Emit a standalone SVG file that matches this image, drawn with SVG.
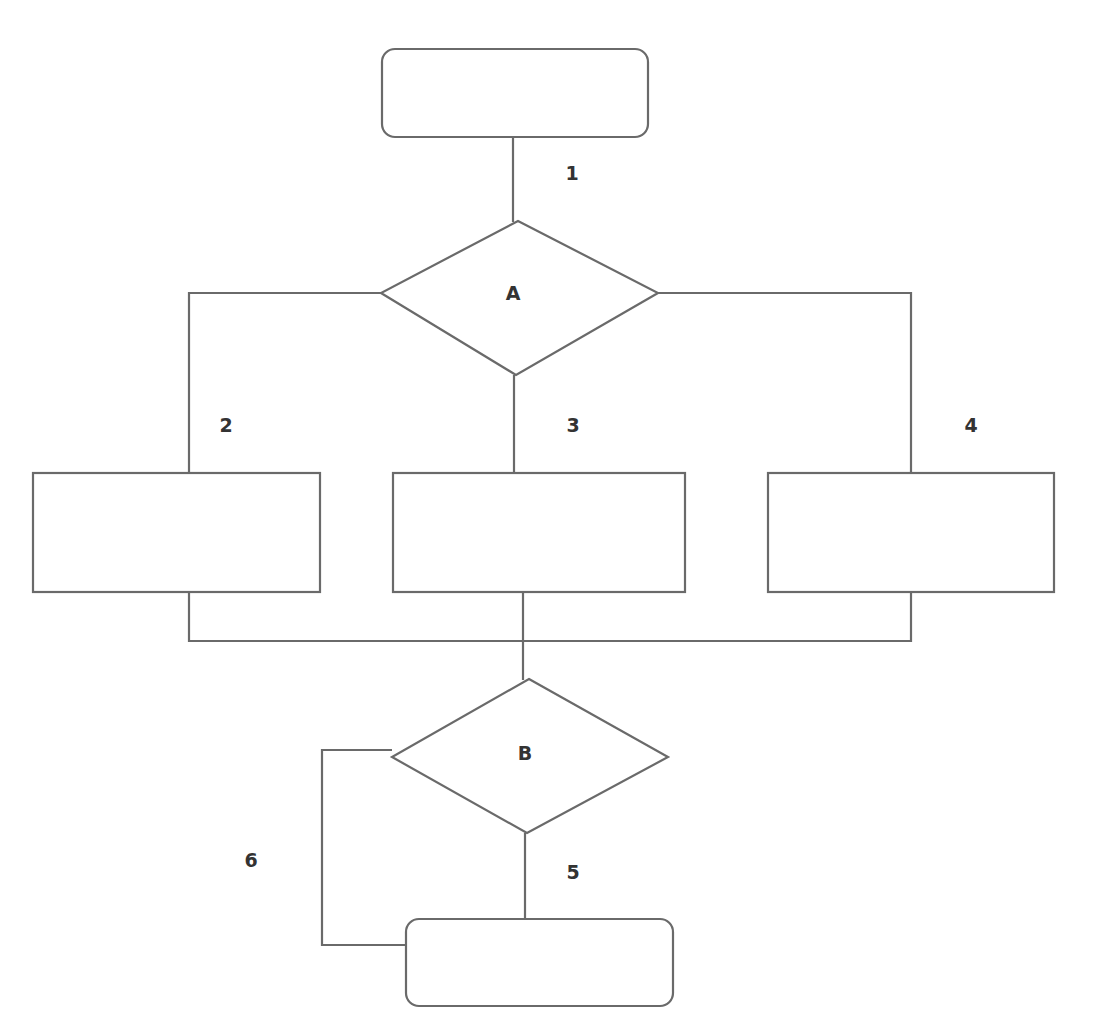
<svg xmlns="http://www.w3.org/2000/svg" width="1102" height="1035" viewBox="0 0 1102 1035">
<style>
.s{fill:#ffffff;stroke:#6a6a6a;stroke-width:2.2}
.c{fill:none;stroke:#6a6a6a;stroke-width:2.2}
.t{font-family:"DejaVu Sans",sans-serif;font-weight:bold;font-size:19px;fill:#333333;text-anchor:middle}
</style>
<rect width="1102" height="1035" fill="#ffffff"/>
<g id="connectors">
<path class="c" d="M513,137 V222"/>
<path class="c" d="M381,293 H189 V473"/>
<path class="c" d="M658,293 H911 V473"/>
<path class="c" d="M514,375 V473"/>
<path class="c" d="M189,592 V641 H911 V592"/>
<path class="c" d="M523,592 V680"/>
<path class="c" d="M525,833 V919"/>
<path class="c" d="M392,750 H322 V945 H406"/>
</g>
<g id="start"><rect class="s" x="382" y="49" width="266" height="88" rx="13"/></g>
<g id="decisionA"><polygon class="s" points="518,221 658,293 516,375 381,293"/><text class="t" x="513" y="300">A</text></g>
<g id="box2"><rect class="s" x="33" y="473" width="287" height="119"/></g>
<g id="box3"><rect class="s" x="393" y="473" width="292" height="119"/></g>
<g id="box4"><rect class="s" x="768" y="473" width="286" height="119"/></g>
<g id="decisionB"><polygon class="s" points="529,679 668,757 527,833 392,757"/><text class="t" x="525" y="760">B</text></g>
<g id="end"><rect class="s" x="406" y="919" width="267" height="87" rx="13"/></g>
<g id="labels">
<text class="t" x="572" y="180">1</text>
<text class="t" x="226" y="432">2</text>
<text class="t" x="573" y="432">3</text>
<text class="t" x="971" y="432">4</text>
<text class="t" x="573" y="879">5</text>
<text class="t" x="251" y="867">6</text>
</g>
</svg>
